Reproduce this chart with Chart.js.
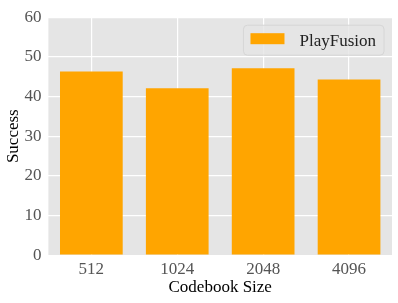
<!DOCTYPE html>
<html lang="en">
<head>
  <meta charset="UTF-8">
  <title>Codebook Size vs Success</title>
  <style>
    html, body { margin: 0; padding: 0; background: #fff; }
    .chart-container { width: 398px; height: 303px; }
  </style>
</head>
<body>
  <div class="chart-container">
    <canvas id="codebookChart" width="398" height="303"></canvas>
  </div>

  <script src="https://cdn.jsdelivr.net/npm/chart.js"></script>
  <script>
    // data
    const codebookSizes = ['512', '1024', '2048', '4096'];
    const successValues = [46.3, 42.1, 47.1, 44.3];
    const yTicks = [0, 10, 20, 30, 40, 50, 60];

    const serif = '"Liberation Serif", "DejaVu Serif", serif';
    const fontSize = 17;

    // gray panel behind the plot, ggplot style
    const panelBackground = {
      id: 'panelBackground',
      beforeDraw(chart) {
        const { ctx, chartArea: a } = chart;
        ctx.save();
        ctx.fillStyle = '#E5E5E5';
        ctx.fillRect(a.left, a.top, a.right - a.left, a.bottom - a.top);
        ctx.restore();
      }
    };

    // legend drawn inside the plot area, top right
    const innerLegend = {
      id: 'innerLegend',
      afterDraw(chart) {
        const { ctx, chartArea: a } = chart;
        const ds = chart.data.datasets[0];
        ctx.save();
        ctx.font = fontSize + 'px ' + serif;
        const textW = ctx.measureText(ds.label).width;
        const boxW = 7 + 34 + 15 + textW + 8;
        const boxH = 30;
        const x = a.right - 8 - boxW;
        const y = a.top + 8;
        const r = 4;
        ctx.beginPath();
        ctx.moveTo(x + r, y);
        ctx.arcTo(x + boxW, y, x + boxW, y + boxH, r);
        ctx.arcTo(x + boxW, y + boxH, x, y + boxH, r);
        ctx.arcTo(x, y + boxH, x, y, r);
        ctx.arcTo(x, y, x + boxW, y, r);
        ctx.closePath();
        ctx.fillStyle = 'rgba(229,229,229,0.8)';
        ctx.fill();
        ctx.strokeStyle = '#D6D6D6';
        ctx.lineWidth = 1;
        ctx.stroke();
        ctx.fillStyle = ds.backgroundColor;
        ctx.fillRect(x + 7, y + 8, 34, 11);
        ctx.fillStyle = '#222';
        ctx.textBaseline = 'middle';
        ctx.fillText(ds.label, x + 7 + 34 + 15, y + boxH / 2 + 1);
        ctx.restore();
      }
    };

    const ctx = document.getElementById('codebookChart').getContext('2d');
    new Chart(ctx, {
      type: 'bar',
      data: {
        labels: codebookSizes,
        datasets: [{
          label: 'PlayFusion',
          data: successValues,
          backgroundColor: '#FFA500',
          borderWidth: 0,
          barPercentage: 0.73,
          categoryPercentage: 1.0
        }]
      },
      options: {
        responsive: false,
        animation: false,
        devicePixelRatio: 1,
        layout: { padding: { top: -2, right: 6, left: 3, bottom: 5 } },
        plugins: {
          legend: { display: false },
          tooltip: { enabled: false }
        },
        scales: {
          x: {
            grid: { color: '#FFFFFF', lineWidth: 1.2, offset: false, drawTicks: false },
            border: { display: false },
            ticks: { color: '#555', font: { family: serif, size: fontSize }, padding: 4 },
            title: { display: true, text: 'Codebook Size', color: '#000', font: { family: serif, size: fontSize }, padding: { top: -6, bottom: 0 } }
          },
          y: {
            min: 0,
            max: 60,
            afterBuildTicks(scale) { scale.ticks = yTicks.map(v => ({ value: v })); },
            grid: { color: '#FFFFFF', lineWidth: 1.2, drawTicks: false },
            border: { display: false },
            ticks: { color: '#555', font: { family: serif, size: fontSize }, padding: 7 },
            title: { display: true, text: 'Success', color: '#000', font: { family: serif, size: fontSize }, padding: { top: 0, bottom: -6 } }
          }
        }
      },
      plugins: [panelBackground, innerLegend]
    });
  </script>
</body>
</html>
